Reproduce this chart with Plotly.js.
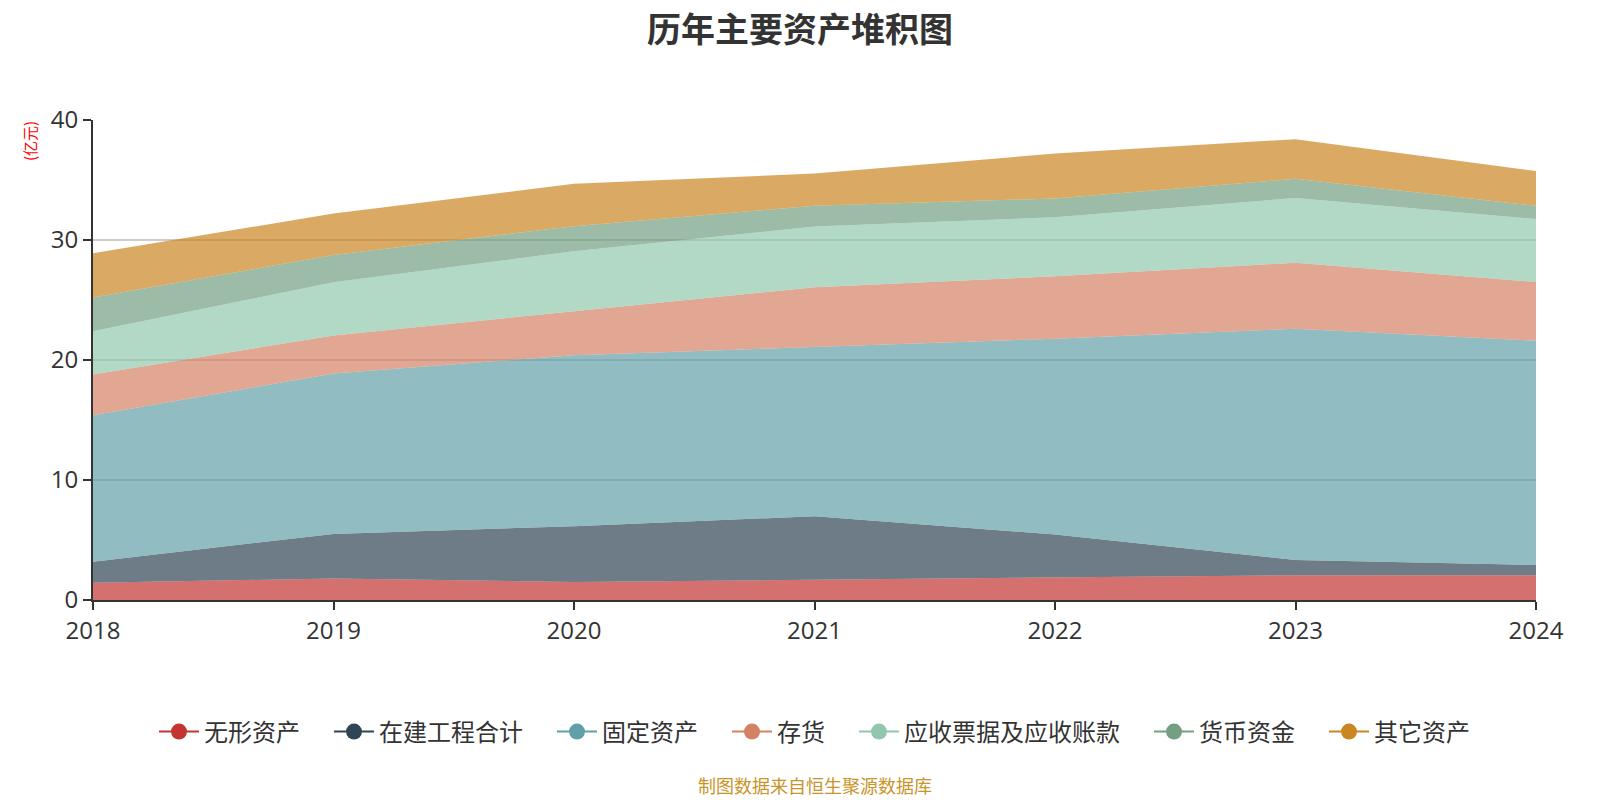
<!DOCTYPE html>
<html>
<head>
<meta charset="utf-8">
<script src="https://cdn.plot.ly/plotly-3.0.1.min.js"></script>
<style>
html,body{margin:0;padding:0;background:#fff;}
#chart{width:1600px;height:800px;}
</style>
</head>
<body>
<div id="chart"></div>
<script>
const years = [2018, 2019, 2020, 2021, 2022, 2023, 2024];
const seriesNames = ['无形资产', '在建工程合计', '固定资产', '存货', '应收票据及应收账款', '货币资金', '其它资产'];
const intangible = [1.44, 1.79, 1.51, 1.71, 1.85, 2.06, 2.06];
const construction = [1.75, 3.72, 4.64, 5.27, 3.61, 1.27, 0.86];
const fixedAssets = [12.21, 13.37, 14.25, 14.09, 16.31, 19.27, 18.68];
const inventory = [3.40, 3.16, 3.67, 5.00, 5.21, 5.50, 4.90];
const receivables = [3.60, 4.44, 5.00, 5.05, 4.92, 5.40, 5.25];
const cash = [2.80, 2.28, 2.08, 1.73, 1.56, 1.60, 1.10];
const others = [3.70, 3.44, 3.53, 2.69, 3.74, 3.30, 2.90];
const yTicks = [0, 10, 20, 30, 40];

const seriesValues = [intangible, construction, fixedAssets, inventory, receivables, cash, others];
const colors = ['#c23531', '#2f4554', '#61a0a8', '#d48265', '#91c7ae', '#749f83', '#ca8622'];

function rgba(hex, a) {
  const r = parseInt(hex.slice(1, 3), 16), g = parseInt(hex.slice(3, 5), 16), b = parseInt(hex.slice(5, 7), 16);
  return `rgba(${r},${g},${b},${a})`;
}

const traces = [];
seriesValues.forEach((vals, i) => {
  traces.push({
    type: 'scatter', mode: 'lines', x: years, y: vals, name: seriesNames[i],
    stackgroup: 'one', fillcolor: rgba(colors[i], 0.7),
    line: {width: 0, color: colors[i]}, showlegend: false, hoverinfo: 'x+y+name'
  });
});
seriesValues.forEach((vals, i) => {
  const label = i < seriesValues.length - 1 ? seriesNames[i] + '\u2003' : seriesNames[i];
  traces.push({
    type: 'scatter', mode: 'lines+markers', x: [null], y: [null], name: label,
    line: {width: 2, color: colors[i]}, marker: {size: 22, color: colors[i]},
    showlegend: true, hoverinfo: 'skip'
  });
});

const fontFam = '"Open Sans", "Noto Sans CJK SC", sans-serif';
const layout = {
  width: 1600, height: 800,
  paper_bgcolor: '#fff', plot_bgcolor: '#fff',
  margin: {l: 93, r: 64, t: 120, b: 200},
  font: {family: fontFam, color: '#333'},
  title: {text: '<b>历年主要资产堆积图</b>', x: 0.5, xanchor: 'center', y: 0.962, yanchor: 'middle',
          font: {size: 34, family: '"Noto Sans CJK SC", sans-serif', color: '#333'}},
  xaxis: {
    type: 'linear', range: [2018, 2024], tickvals: years, ticktext: years.map(String),
    showgrid: false, zeroline: false, showline: true, linecolor: '#333', linewidth: 2,
    ticks: 'outside', ticklen: 8, tickwidth: 2, tickcolor: '#333',
    tickfont: {size: 24, color: '#333', family: fontFam}
  },
  yaxis: {
    range: [0, 40], tickvals: yTicks, showgrid: true, gridcolor: '#cccccc', gridwidth: 1.5,
    zeroline: false, showline: true, linecolor: '#333', linewidth: 2,
    ticks: 'outside', ticklen: 8, tickwidth: 2, tickcolor: '#333',
    tickfont: {size: 24, color: '#333', family: fontFam}
  },
  legend: {
    orientation: 'h', x: 0.5, xanchor: 'center', y: -0.275, yanchor: 'middle',
    font: {size: 24, color: '#333', family: '"Noto Sans CJK SC", sans-serif'},
    itemwidth: 40, traceorder: 'normal'
  },
  annotations: [
    {text: '(亿元)', xref: 'paper', yref: 'paper', x: -0.044, y: 0.955, xanchor: 'center', yanchor: 'middle',
     textangle: -90, showarrow: false, font: {size: 15, color: '#ff0000', family: '"Noto Sans CJK SC", sans-serif'}},
    {text: '制图数据来自恒生聚源数据库', xref: 'paper', yref: 'paper', x: 0.5, y: -0.385, xanchor: 'center', yanchor: 'middle',
     showarrow: false, font: {size: 18, color: '#c9942a', family: '"Noto Sans CJK SC", sans-serif'}}
  ],
  hovermode: 'x'
};

Plotly.newPlot('chart', traces, layout, {displayModeBar: false, responsive: false});
</script>
</body>
</html>
